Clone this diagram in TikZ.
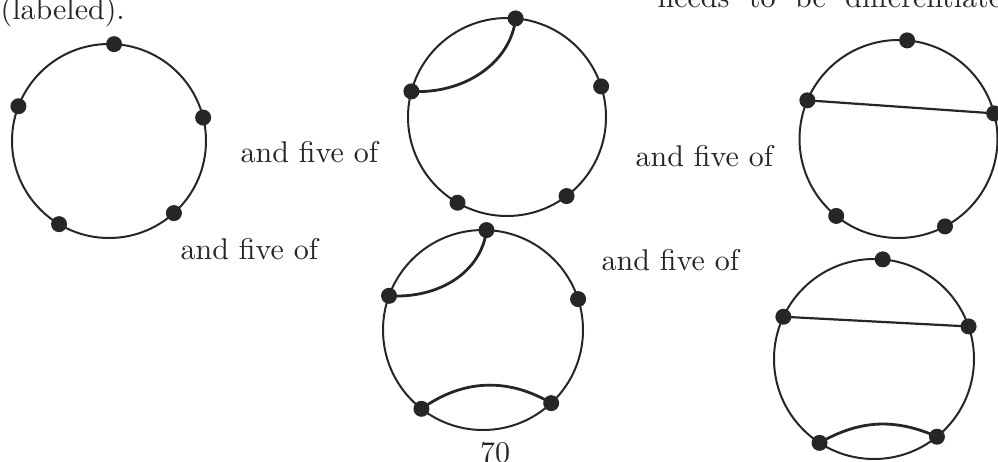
\documentclass[tikz,border=0pt]{standalone}
\usepackage{fontspec}
\definecolor{ink}{HTML}{262626}
\begin{document}
\begin{tikzpicture}[x=1pt,y=-1pt,
  ring/.style={circle, draw=ink, line width=2pt, inner sep=0pt, outer sep=0pt},
  dot/.style={circle, fill=ink, inner sep=0pt, minimum size=16pt},
  chord/.style={draw=ink, line width=2.8pt},
  straight/.style={draw=ink, line width=2.2pt},
  txt/.style={anchor=base west, inner sep=0pt, scale=3, text=ink, font=\fontsize{10}{12}\selectfont}]
\useasboundingbox (0,0) rectangle (998,461);
\clip (0,0) rectangle (998,461);

% circles
\node[ring, minimum size=194pt] (c1) at (109,141) {};
\node[ring, minimum size=198pt] (c2) at (507,117) {};
\node[ring, minimum size=198pt] (c3) at (898.5,139) {};
\node[ring, minimum size=200pt] (c4) at (483,330) {};
\node[ring, minimum size=200pt] (c5) at (874,359) {};

% dots circle 1
\node[dot] (d1t) at (c1.87) {};
\node[dot] (d1l) at (c1.159.7) {};
\node[dot] (d1r) at (c1.14.3) {};
\node[dot] (d1br) at (c1.-48.8) {};
\node[dot] (d1bl) at (c1.-121.9) {};
% dots circle 2
\node[dot] (d2t) at (c2.85.4) {};
\node[dot] (d2l) at (c2.165.1) {};
\node[dot] (d2r) at (c2.18.4) {};
\node[dot] (d2br) at (c2.-53) {};
\node[dot] (d2bl) at (c2.-120.5) {};
% dots circle 3
\node[dot] (d3t) at (c3.85.1) {};
\node[dot] (d3l) at (c3.157.5) {};
\node[dot] (d3r) at (c3.15.5) {};
\node[dot] (d3bl) at (c3.-129.8) {};
\node[dot] (d3br) at (c3.-62.4) {};
% dots circle 4
\node[dot] (d4t) at (c4.88.8) {};
\node[dot] (d4l) at (c4.160.3) {};
\node[dot] (d4r) at (c4.18.6) {};
\node[dot] (d4bl) at (c4.-128.3) {};
\node[dot] (d4br) at (c4.-47.5) {};
% dots circle 5
\node[dot] (d5t) at (c5.85) {};
\node[dot] (d5l) at (c5.155.3) {};
\node[dot] (d5r) at (c5.19) {};
\node[dot] (d5bl) at (c5.-123.5) {};
\node[dot] (d5br) at (c5.-51.7) {};

% chords
\draw[chord] (d2t.center) .. controls +(-5,45) and +(52,3) .. (d2l.center);
\draw[chord] (d4t.center) .. controls +(-5,42) and +(50,3) .. (d4l.center);
\draw[chord] (d4bl.center) to[bend left=33] (d4br.center);
\draw[chord] (d5bl.center) to[bend left=27] (d5br.center);
\draw[straight] (d3l.center) -- (d3r.center);
\draw[straight] (d5l.center) -- (d5r.center);

% texts
\node[txt] (lab) at (0,19) {(labeled).};
\node[txt] (toptext) at (657,7) {needs\hspace{6.5pt}to\hspace{6.5pt}be\hspace{6.5pt}differentiated};
\node[txt] (t1) at (240,162) {and five of};
\node[txt] (t2) at (180,259) {and five of};
\node[txt] (t3) at (635,166) {and five of};
\node[txt] (t4) at (601,270) {and five of};
\node[txt, anchor=base] (pg) at (495,462) {70};
\end{tikzpicture}
\end{document}
